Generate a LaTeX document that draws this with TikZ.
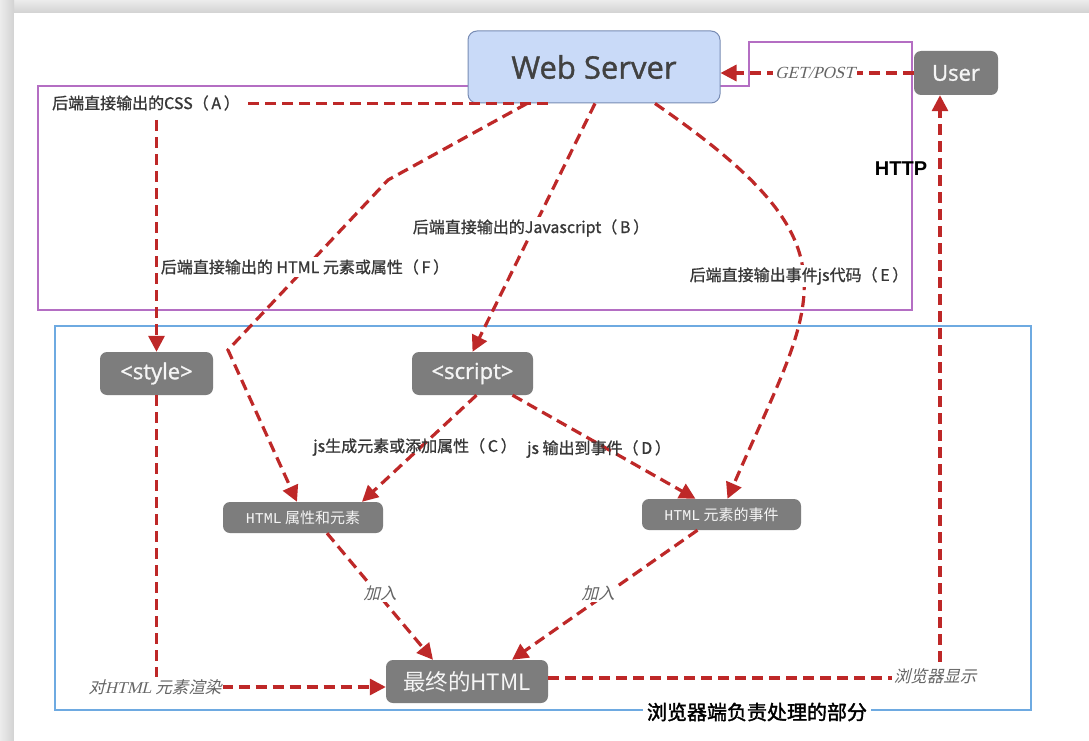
\documentclass[tikz,border=0pt]{standalone}
\usepackage{fontspec}
\setmainfont{Noto Sans CJK SC}
\newfontfamily\boxfont{Open Sans}[FakeBold=1.2]
\newfontfamily\cjk{Noto Sans CJK SC}[FakeBold=1.0]
\newfontfamily\cjkw{Noto Sans CJK SC}
\newfontfamily\cjkb{Noto Sans CJK SC}[FakeBold=1.8]
\newfontfamily\cjkit{Noto Sans CJK SC}[FakeSlant=0.25]
\newfontfamily\serifit{Liberation Serif}[FakeSlant=0.25]
\newfontfamily\monof{Liberation Mono}
\newfontfamily\hdr{Liberation Sans}
\usetikzlibrary{arrows.meta,shadings}
\definecolor{arr}{RGB}{190,40,40}
\definecolor{boxg}{RGB}{125,125,125}
\definecolor{purp}{RGB}{180,110,195}
\definecolor{blu}{RGB}{110,170,225}
\definecolor{wsfill}{RGB}{201,218,248}
\definecolor{wsline}{RGB}{120,140,180}
\definecolor{lbl}{RGB}{55,55,55}
\definecolor{itl}{RGB}{100,100,100}
\tikzset{
  gbox/.style={draw=none,fill=boxg,rounded corners=7pt,text=white!92!gray,inner sep=0pt},
  flow/.style={draw=arr,line width=3.2pt,dash pattern=on 11pt off 6pt,-{Triangle[length=16pt,width=16pt]}},
  lab/.style={text=lbl,font=\cjk\fontsize{16}{18}\selectfont,inner sep=2pt},
  wlab/.style={lab,fill=white,inner xsep=0.5pt},
  ilab/.style={text=itl,font=\cjkit\fontsize{16.5}{18}\selectfont,fill=white,inner sep=2pt},
}
\begin{document}
\begin{tikzpicture}[x=1pt,y=-1pt]
\useasboundingbox (0,0) rectangle (1089,741);
% page shadow
\shade[top color=gray!15,bottom color=gray!35] (0,0) rectangle (1089,13);
\shade[left color=gray!15,right color=gray!35] (0,0) rectangle (14,741);
\fill[white] (14,13) rectangle (1089,741);
% regions
\draw[purp,line width=1.2pt] (38,86) -- (749,86) -- (749,42) -- (912,42) -- (912,310) -- (38,310) -- cycle;
\draw[blu,line width=1.5pt] (55,326) rectangle (1031,710);
% nodes
\node[draw=wsline,line width=1pt,fill=wsfill,rounded corners=9pt,minimum width=252pt,minimum height=72pt,inner sep=0pt,
  text={rgb,255:red,65;green,65;blue,65},font=\boxfont\fontsize{31}{34}\selectfont] (web) at (594,67) {Web Server};
\node[gbox,minimum width=84pt,minimum height=44pt,font=\boxfont\fontsize{22}{24}\selectfont] (user) at (956,73) {User};
\node[gbox,minimum width=113pt,minimum height=43pt,font=\boxfont\fontsize{22}{24}\selectfont] (style) at (156.5,373.5) {<style>};
\node[gbox,minimum width=121pt,minimum height=43pt,font=\boxfont\fontsize{22}{24}\selectfont] (script) at (472.5,373.5) {<script>};
\node[gbox,minimum width=160pt,minimum height=31pt,font=\cjkw\fontsize{15}{17}\selectfont] (attr) at (303,517.5) {{\monof HTML} 属性和元素};
\node[gbox,minimum width=159pt,minimum height=31pt,font=\cjkw\fontsize{15}{17}\selectfont] (evt) at (721.5,514.5) {{\monof HTML} 元素的事件};
\node[gbox,minimum width=162pt,minimum height=43pt,font=\cjkw\fontsize{22.5}{25}\selectfont] (final) at (467,681.5) {最终的HTML};
% helper coordinates
\coordinate (f1) at (388,180);
\coordinate (f2) at (228,350);
% connectors
\draw[flow] ([xshift=-46pt]web.south) -| (style.north);
\draw[flow] ([xshift=-67pt]web.south) -- (f1) -- (f2) -- ([xshift=-6pt]attr.north);
\draw[flow] ([xshift=1pt]web.south) -- (script.north);
\draw[flow] ([xshift=61pt]web.south) .. controls (866,249) and (815,297) .. ([xshift=6pt]evt.north);
\draw[flow] ([xshift=4pt]script.south) -- ([xshift=59pt]attr.north);
\draw[flow] ([xshift=40pt]script.south) -- ([xshift=-26pt]evt.north);
\draw[flow] ([xshift=24pt]attr.south) -- ([xshift=-34pt]final.north);
\draw[flow] ([xshift=-24pt]evt.south) -- ([xshift=45pt]final.north);
\draw[flow] (style.south) |- ([yshift=-5.5pt]final.west);
\draw[flow] ([yshift=3.5pt]final.east) -| ([xshift=-16pt]user.south);
\draw[flow] (user.west) -- (user.west -| web.east);
% labels
\node[wlab,inner ysep=6pt,inner xsep=5pt] (lA) at (146,103) {后端直接输出的CSS（\,A\,）};
\node[wlab] (lF) at (305,267) {后端直接输出的 HTML 元素或属性（\,F\,）};
\node[wlab] (lB) at (531,228) {后端直接输出的Javascript（\,B\,）};
\node[wlab] (lE) at (799,276) {后端直接输出事件js代码（\,E\,）};
\node[lab] (lC) at (415,447) {js生成元素或添加属性（\,C\,）};
\node[lab] (lD) at (599,449) {js 输出到事件（\,D\,）};
\node[text=black,font=\hdr\bfseries\fontsize{20}{22}\selectfont] (http) at (901,169) {HTTP};
\node[fill=white,text=itl,font=\serifit\fontsize{17}{19}\selectfont,inner sep=2pt] (gp) at (815,73) {GET/POST};
\node[ilab] (j1) at (380,593) {加入};
\node[ilab] (j2) at (598,593) {加入};
\node[ilab] (rd) at (155,687) {对{\serifit HTML} 元素渲染};
\node[ilab] (bx) at (935,676) {浏览器显示};
\node[fill=white,text=black,font=\cjkb\fontsize{20}{22}\selectfont,inner xsep=4pt,inner ysep=1pt] (ttl) at (757,712) {浏览器端负责处理的部分};
\end{tikzpicture}
\end{document}
